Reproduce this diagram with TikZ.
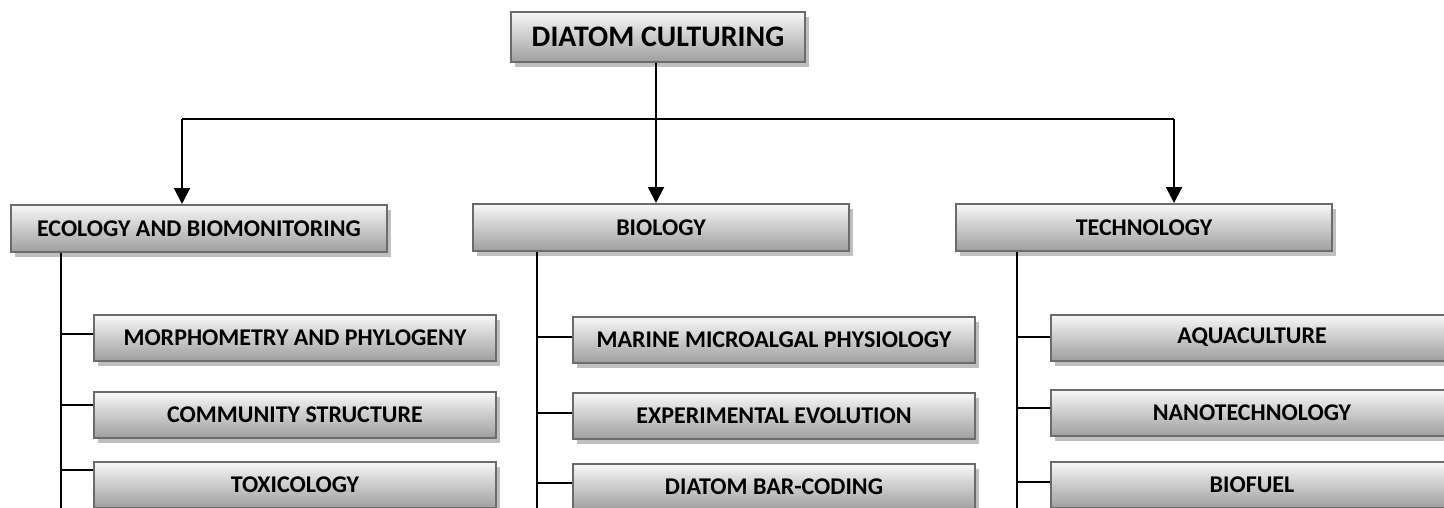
\documentclass[tikz,border=0pt]{standalone}
\usepackage{fontspec}
\setmainfont{Carlito}
\usetikzlibrary{arrows.meta,shadows,calc}
\begin{document}
\begin{tikzpicture}[x=0.5pt,y=-0.5pt,
  boxbase/.style={draw=black!58, line width=1pt, top color=white!97!black, bottom color=black!38,
    drop shadow={shadow xshift=2pt, shadow yshift=-2.5pt, fill=black!25, opacity=1},
    font=\bfseries, inner sep=0pt, anchor=center},
  topbox/.style={boxbase, minimum width=147pt, minimum height=25pt, font=\bfseries\fontsize{14.9}{17}\selectfont},
  catbox/.style={boxbase, minimum width=188pt, minimum height=23.5pt, font=\bfseries\fontsize{12}{14}\selectfont},
  subbox/.style={boxbase, minimum width=201pt, minimum height=23pt, font=\bfseries\fontsize{12}{14}\selectfont},
  link/.style={line width=1pt, black},
  arr/.style={link, -{Triangle[length=8pt,width=8pt]}}]
\clip (0,0) rectangle (1444,508);
\fill[white] (0,0) rectangle (1444,508);
% top
\node[topbox] (top) at (658,37) {DIATOM CULTURING};
% categories
\node[catbox] (eco) at (199,228.5) {ECOLOGY AND BIOMONITORING};
\node[catbox] (bio) at (661,227.5) {BIOLOGY};
\node[catbox] (tec) at (1144,227.5) {TECHNOLOGY};
% children
\node[subbox] (e1) at (295,338) {MORPHOMETRY AND PHYLOGENY};
\node[subbox] (e2) at (295,415) {COMMUNITY STRUCTURE};
\node[subbox] (e3) at (295,485) {TOXICOLOGY};
\node[subbox] (b1) at (774,340) {MARINE MICROALGAL PHYSIOLOGY};
\node[subbox] (b2) at (774,416) {EXPERIMENTAL EVOLUTION};
\node[subbox] (b3) at (774,487) {DIATOM BAR-CODING};
\node[subbox] (t1) at (1252,337.5) {AQUACULTURE};
\node[subbox] (t2) at (1252,413) {NANOTECHNOLOGY};
\node[subbox] (t3) at (1252,485) {BIOFUEL};
% top connectors
\coordinate (hub) at (656,119);
\coordinate (hl) at (182,119);
\coordinate (hr) at (1174,119);
\draw[link] (top.south -| hub) -- (hub);
\draw[link] (hl) -- (hr);
\draw[arr] (hl) -- (hl |- eco.north);
\draw[arr] (hub) -- (hub |- bio.north);
\draw[arr] (hr) -- (hr |- tec.north);
% trunks
\coordinate (ex) at (61,530);
\coordinate (bx) at (537,530);
\coordinate (tx) at (1017,530);
\draw[link] (eco.south -| ex) -- (ex);
\draw[link] (bio.south -| bx) -- (bx);
\draw[link] (tec.south -| tx) -- (tx);
% branches
\coordinate (ey1) at (61,334); \coordinate (ey2) at (61,405); \coordinate (ey3) at (61,470);
\coordinate (by1) at (537,337); \coordinate (by2) at (537,413); \coordinate (by3) at (537,483);
\coordinate (ty1) at (1017,337); \coordinate (ty2) at (1017,408); \coordinate (ty3) at (1017,482);
\draw[link] (ey1) -- (ey1 -| e1.west);
\draw[link] (ey2) -- (ey2 -| e2.west);
\draw[link] (ey3) -- (ey3 -| e3.west);
\draw[link] (by1) -- (by1 -| b1.west);
\draw[link] (by2) -- (by2 -| b2.west);
\draw[link] (by3) -- (by3 -| b3.west);
\draw[link] (ty1) -- (ty1 -| t1.west);
\draw[link] (ty2) -- (ty2 -| t2.west);
\draw[link] (ty3) -- (ty3 -| t3.west);
\end{tikzpicture}
\end{document}
